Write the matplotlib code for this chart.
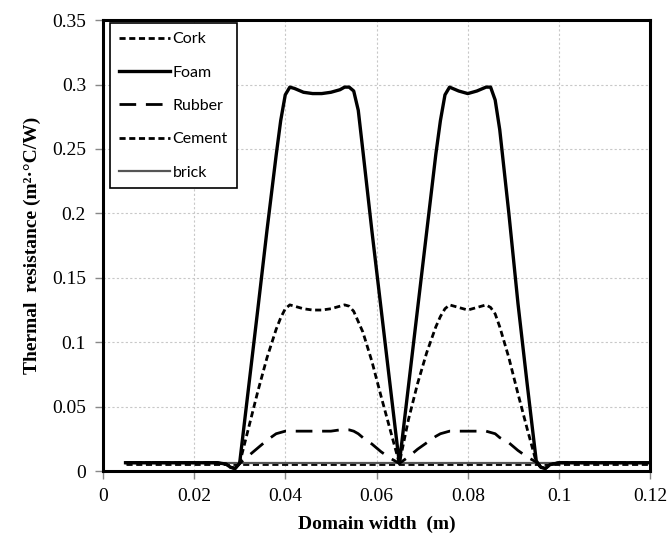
import matplotlib.pyplot as plt
from matplotlib.ticker import FuncFormatter, MultipleLocator

# domain position (m)
x = [0.005, 0.010, 0.015, 0.020, 0.025, 0.027, 0.028, 0.029, 0.030, 0.032,
     0.034, 0.036, 0.038, 0.039, 0.040, 0.041, 0.042, 0.044, 0.046, 0.048,
     0.050, 0.052, 0.053, 0.054, 0.055, 0.056, 0.057, 0.059, 0.061, 0.063,
     0.065, 0.067, 0.069, 0.071, 0.073, 0.074, 0.075, 0.076, 0.078, 0.080,
     0.082, 0.084, 0.085, 0.086, 0.087, 0.089, 0.091, 0.093, 0.095, 0.096,
     0.097, 0.098, 0.100, 0.105, 0.110, 0.115, 0.120]

foam = [0.0065, 0.0065, 0.0065, 0.0065, 0.0065, 0.0055, 0.003, 0.002, 0.006, 0.066,
        0.126, 0.187, 0.245, 0.272, 0.292, 0.298, 0.297, 0.294, 0.293, 0.293,
        0.294, 0.296, 0.298, 0.298, 0.295, 0.280, 0.249, 0.186, 0.126, 0.066,
        0.006, 0.066, 0.126, 0.186, 0.246, 0.272, 0.292, 0.298, 0.295, 0.293,
        0.295, 0.298, 0.298, 0.288, 0.265, 0.200, 0.130, 0.068, 0.008, 0.003,
        0.002, 0.005, 0.0065, 0.0065, 0.0065, 0.0065, 0.0065]

cork = [0.0065, 0.0065, 0.0065, 0.0065, 0.0065, 0.0055, 0.003, 0.002, 0.006, 0.034,
        0.062, 0.088, 0.110, 0.119, 0.126, 0.129, 0.128, 0.126, 0.125, 0.125,
        0.126, 0.128, 0.129, 0.128, 0.124, 0.116, 0.108, 0.085, 0.058, 0.032,
        0.006, 0.040, 0.068, 0.092, 0.112, 0.120, 0.126, 0.129, 0.127, 0.125,
        0.127, 0.129, 0.127, 0.122, 0.112, 0.088, 0.060, 0.033, 0.007, 0.003,
        0.002, 0.005, 0.0065, 0.0065, 0.0065, 0.0065, 0.0065]

rubber = [0.0065, 0.0065, 0.0065, 0.0065, 0.0065, 0.0055, 0.003, 0.002, 0.006, 0.012,
          0.018, 0.024, 0.029, 0.030, 0.031, 0.031, 0.031, 0.031, 0.031, 0.031,
          0.031, 0.032, 0.032, 0.032, 0.031, 0.029, 0.026, 0.021, 0.015, 0.010,
          0.006, 0.011, 0.017, 0.022, 0.027, 0.029, 0.030, 0.031, 0.031, 0.031,
          0.031, 0.031, 0.030, 0.029, 0.026, 0.022, 0.016, 0.011, 0.007, 0.003,
          0.002, 0.005, 0.0065, 0.0065, 0.0065, 0.0065, 0.0065]

cement_x = [0.005, 0.120]
cement = [0.0055, 0.0055]
brick_x = [0.005, 0.120]
brick = [0.0066, 0.0066]

plt.rcParams['font.family'] = 'Liberation Serif'

fig = plt.figure(figsize=(6.67, 5.44), dpi=100)
ax = fig.add_axes([0.154, 0.134, 0.821, 0.829])

ax.plot(x, cork, color='black', lw=2, linestyle=(0, (2.2, 1.3)), label='Cork', zorder=4)
ax.plot(x, foam, color='black', lw=2.4, label='Foam', zorder=5)
ax.plot(x, rubber, color='black', lw=2, linestyle=(0, (6, 3.5)), label='Rubber', zorder=4)
ax.plot(cement_x, cement, color='black', lw=2, linestyle=(0, (2.2, 1.3)), label='Cement', zorder=3)
ax.plot(brick_x, brick, color='#555555', lw=1.6, label='brick', zorder=3)

ax.set_xlim(0, 0.12)
ax.set_ylim(0, 0.35)
ax.xaxis.set_major_locator(MultipleLocator(0.02))
ax.yaxis.set_major_locator(MultipleLocator(0.05))
ax.xaxis.set_major_formatter(FuncFormatter(lambda v, p: '%g' % round(v, 4)))
ax.yaxis.set_major_formatter(FuncFormatter(lambda v, p: '%g' % round(v, 4)))
ax.grid(True, color='#c8c8c8', linestyle=(0, (2, 2)), lw=0.8)
ax.set_axisbelow(True)
ax.tick_params(labelsize=14, length=6, width=1, color='#888888', pad=6)
for s in ax.spines.values():
    s.set_linewidth(2.2)

ax.set_xlabel('Domain width  (m)', fontsize=14, fontweight='bold', labelpad=8)
ax.set_ylabel('Thermal  resistance (m²·°C/W)', fontsize=14, fontweight='bold', labelpad=8)

leg = ax.legend(loc='upper left', bbox_to_anchor=(0.008, 1.0), fancybox=False,
                edgecolor='black', framealpha=1, handlelength=3.2, labelspacing=1.2,
                handletextpad=0.15, borderpad=0.55, borderaxespad=0.2,
                prop={'family': 'Lato', 'size': 11.5})
leg.get_frame().set_linewidth(1.2)

fig.savefig('out.png', dpi=100)
